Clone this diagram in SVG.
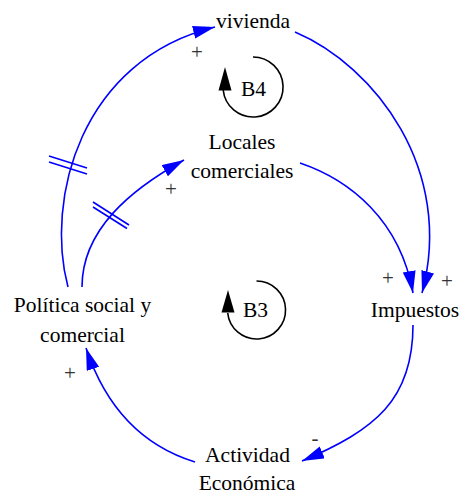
<svg xmlns="http://www.w3.org/2000/svg" width="461" height="494" viewBox="0 0 461 494">
  <style>
    .lbl { font-family: 'Liberation Serif', 'DejaVu Serif', serif; font-size: 21.5px; fill: #000; text-anchor: middle; }
    .sign { font-family: 'Liberation Serif', 'DejaVu Serif', serif; font-size: 21px; fill: #333; text-anchor: middle; }
    .link { fill: none; stroke: #0000ff; stroke-width: 1.6; }
    .delay { stroke: #0000ff; stroke-width: 1.6; }
    .loop { fill: none; stroke: #000; stroke-width: 1.6; }
  </style>
  <defs>
    <marker id="arrow" markerUnits="userSpaceOnUse" markerWidth="24" markerHeight="14" refX="22" refY="6.5" orient="auto">
      <path d="M0,0 L22,6.5 L0,13 z" fill="#0000ff"/>
    </marker>
  </defs>
  <rect width="461" height="494" fill="#fff"/>

  <!-- causal links -->
  <g id="links">
    <!-- Política social y comercial -> vivienda -->
    <path class="link" d="M68,287 C45,200 80,60 215,27" marker-end="url(#arrow)"/>
    <line class="delay" x1="49" y1="156" x2="87" y2="168"/>
    <line class="delay" x1="49" y1="162" x2="87" y2="174"/>
    <!-- Política social y comercial -> Locales comerciales -->
    <path class="link" d="M82,287 C82,230 130,190 184,160" marker-end="url(#arrow)"/>
    <line class="delay" x1="93" y1="202" x2="129" y2="225"/>
    <line class="delay" x1="93" y1="207" x2="127" y2="228.5"/>
    <!-- vivienda -> Impuestos -->
    <path class="link" d="M295,32 C375,66 455,170 422,293" marker-end="url(#arrow)"/>
    <!-- Locales comerciales -> Impuestos -->
    <path class="link" d="M300,163 C350,180 400,220 413,293" marker-end="url(#arrow)"/>
    <!-- Impuestos -> Actividad Económica -->
    <path class="link" d="M413,325 C413,400 375,430 302,461" marker-end="url(#arrow)"/>
    <!-- Actividad Económica -> Política social y comercial -->
    <path class="link" d="M195,462 C140,445 105,405 86,348" marker-end="url(#arrow)"/>

    <!-- polarities -->
    <text class="sign" x="197" y="59">+</text>
    <text class="sign" x="171" y="196">+</text>
    <text class="sign" x="388" y="285">+</text>
    <text class="sign" x="447" y="288">+</text>
    <text class="sign" x="315" y="445">-</text>
    <text class="sign" x="70" y="380">+</text>
  </g>

  <!-- variables -->
  <g id="vivienda">
    <text class="lbl" x="253" y="28">vivienda</text>
  </g>
  <g id="locales">
    <text class="lbl" x="242" y="149">Locales</text>
    <text class="lbl" x="242" y="178">comerciales</text>
  </g>
  <g id="impuestos">
    <text class="lbl" x="415" y="317">Impuestos</text>
  </g>
  <g id="politica">
    <text class="lbl" x="82.5" y="312">Política social y</text>
    <text class="lbl" x="82.5" y="342">comercial</text>
  </g>
  <g id="actividad">
    <text class="lbl" x="247.5" y="462">Actividad</text>
    <text class="lbl" x="247" y="490">Económica</text>
  </g>

  <!-- loop markers -->
  <g id="loop-b4">
    <path class="loop" d="M253,57 A30,30 0 1 1 223.2,90"/>
    <path d="M218.5,90.5 L231.5,90.5 L225,67 z" fill="#000"/>
    <text class="lbl" x="253.5" y="96">B4</text>
  </g>
  <g id="loop-b3">
    <path class="loop" d="M256.5,281 A29,29 0 1 1 227.7,313"/>
    <path d="M221.5,312.5 L234.5,312.5 L228,290 z" fill="#000"/>
    <text class="lbl" x="255.5" y="317">B3</text>
  </g>
</svg>
